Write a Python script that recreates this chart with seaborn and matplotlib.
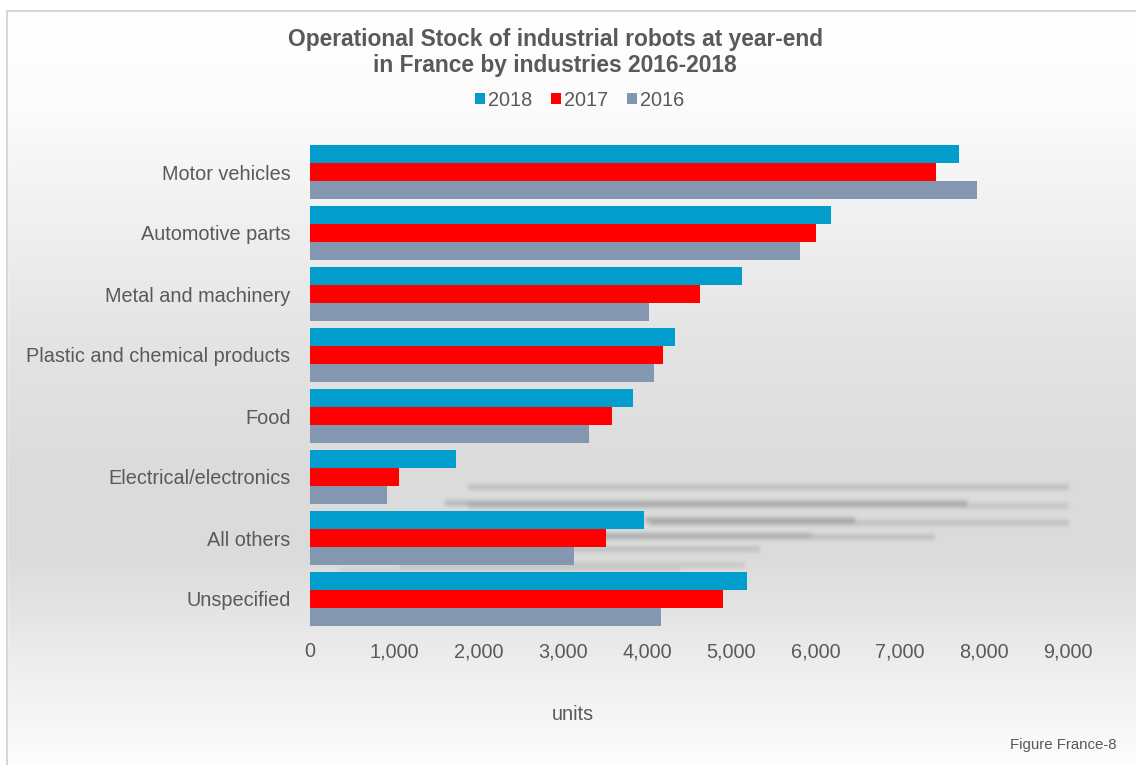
import numpy as np
import pandas as pd
import matplotlib
matplotlib.use("Agg")
import matplotlib.pyplot as plt
from matplotlib.lines import Line2D
from matplotlib.ticker import FuncFormatter
import seaborn as sns

# Operational stock of industrial robots at year-end, France (units)
categories = [
    "Motor vehicles",
    "Automotive parts",
    "Metal and machinery",
    "Plastic and chemical products",
    "Food",
    "Electrical/electronics",
    "All others",
    "Unspecified",
]
years = ["2018", "2017", "2016"]
stock_2018 = [7700, 6190, 5130, 4330, 3840, 1730, 3970, 5190]
stock_2017 = [7430, 6010, 4630, 4190, 3590, 1060, 3510, 4900]
stock_2016 = [7920, 5820, 4020, 4090, 3310, 910, 3140, 4170]
x_ticks = list(range(0, 10000, 1000))

df = pd.DataFrame({
    "industry": categories * 3,
    "year": [y for y in years for _ in categories],
    "units": stock_2018 + stock_2017 + stock_2016,
})

palette = {"2018": "#009dcd", "2017": "#ff0000", "2016": "#8497b0"}
text_color = "#595959"

sns.set_theme(style="white")
plt.rcParams["font.family"] = ["Liberation Sans", "DejaVu Sans"]

W, H = 1136, 765
fig = plt.figure(figsize=(W / 100, H / 100), dpi=100)

# --- soft grey backdrop with faint blurred streaks -------------------------
rows = np.arange(H)
shade = np.interp(rows, [0, 100, 140, 340, 480, 560, 680, 765],
                  [255, 252, 248, 228, 219, 220, 240, 253])
bg = np.repeat(shade[:, None], W, axis=1).astype(float)

streaks = np.zeros((H, W))
for y, x0, x1, depth in [(487, 468, 1069, 26), (503, 445, 967, 34),
                         (506, 468, 1069, 20), (520, 645, 855, 36),
                         (523, 650, 1069, 24), (537, 600, 935, 26),
                         (535, 600, 812, 20), (549, 540, 760, 26),
                         (565, 400, 745, 20), (570, 340, 680, 12)]:
    streaks[y - 3:y + 3, x0:x1] += depth


def blur(a, r, axis):
    k = np.exp(-0.5 * (np.arange(-r, r + 1) / (r / 2.0)) ** 2)
    k /= k.sum()
    return np.apply_along_axis(lambda v: np.convolve(v, k, mode="same"), axis, a)


streaks = blur(blur(streaks, 4, 0), 4, 1)
bg = np.clip(bg - streaks, 0, 255)
bg_rgb = np.dstack([bg, bg, bg]) / 255.0

bg_ax = fig.add_axes([0, 0, 1, 1], zorder=-10)
bg_ax.imshow(bg_rgb, aspect="auto", extent=[0, W, H, 0], interpolation="bilinear")
bg_ax.set_xlim(0, W)
bg_ax.set_ylim(H, 0)
bg_ax.axis("off")
# white strip outside the chart frame
bg_ax.fill_between([0, W], 0, 11, color="white", zorder=1)
bg_ax.fill_between([0, 7], 0, H, color="white", zorder=1)
bg_ax.add_line(Line2D([7, 7], [11, H], color="#d0d0d0", lw=1.2, zorder=2))
bg_ax.add_line(Line2D([7, W], [11, 11], color="#d0d0d0", lw=1.2, zorder=2))

# --- bar chart -------------------------------------------------------------
ax = fig.add_axes([310 / W, 1 - 629.5 / H, 758 / W, 488 / H])
ax.patch.set_alpha(0)

sns.barplot(data=df, y="industry", x="units", hue="year", hue_order=years,
            order=categories, palette=palette, orient="h", width=0.885,
            linewidth=0, saturation=1, ax=ax)

ax.set_xlim(0, 9000)
ax.set_xticks(x_ticks)
ax.xaxis.set_major_formatter(FuncFormatter(lambda v, p: f"{int(v):,}"))
ax.set_xlabel("")
ax.set_ylabel("")
ax.tick_params(axis="both", length=0, colors=text_color, labelsize=14.3)
ax.tick_params(axis="x", pad=9)
ax.tick_params(axis="y", pad=14)
for lbl in ax.get_xticklabels() + ax.get_yticklabels():
    lbl.set_color(text_color)
for s in ax.spines.values():
    s.set_visible(False)
ax.grid(False)

handles, labels = ax.get_legend_handles_labels()
ax.get_legend().remove()
fig.legend(handles, labels, loc="center", bbox_to_anchor=(580 / W, 1 - 100 / H),
           ncol=3, frameon=False, fontsize=14.3, handlelength=0.5,
           handleheight=0.5, handletextpad=0.15, columnspacing=0.95,
           labelcolor=text_color)

fig.text(555 / W, 1 - 52.5 / H,
         "Operational Stock of industrial robots at year-end\nin France by industries 2016-2018",
         ha="center", va="center", fontsize=16.4, fontweight="bold",
         color=text_color, linespacing=1.2)
fig.text(573 / W, 1 - 714 / H, "units", ha="center", va="center",
         fontsize=14.3, color=text_color)
fig.text(1117 / W, 1 - 745 / H, "Figure France-8", ha="right", va="center",
         fontsize=10.8, color=text_color)

fig.savefig("out.png", dpi=100)
